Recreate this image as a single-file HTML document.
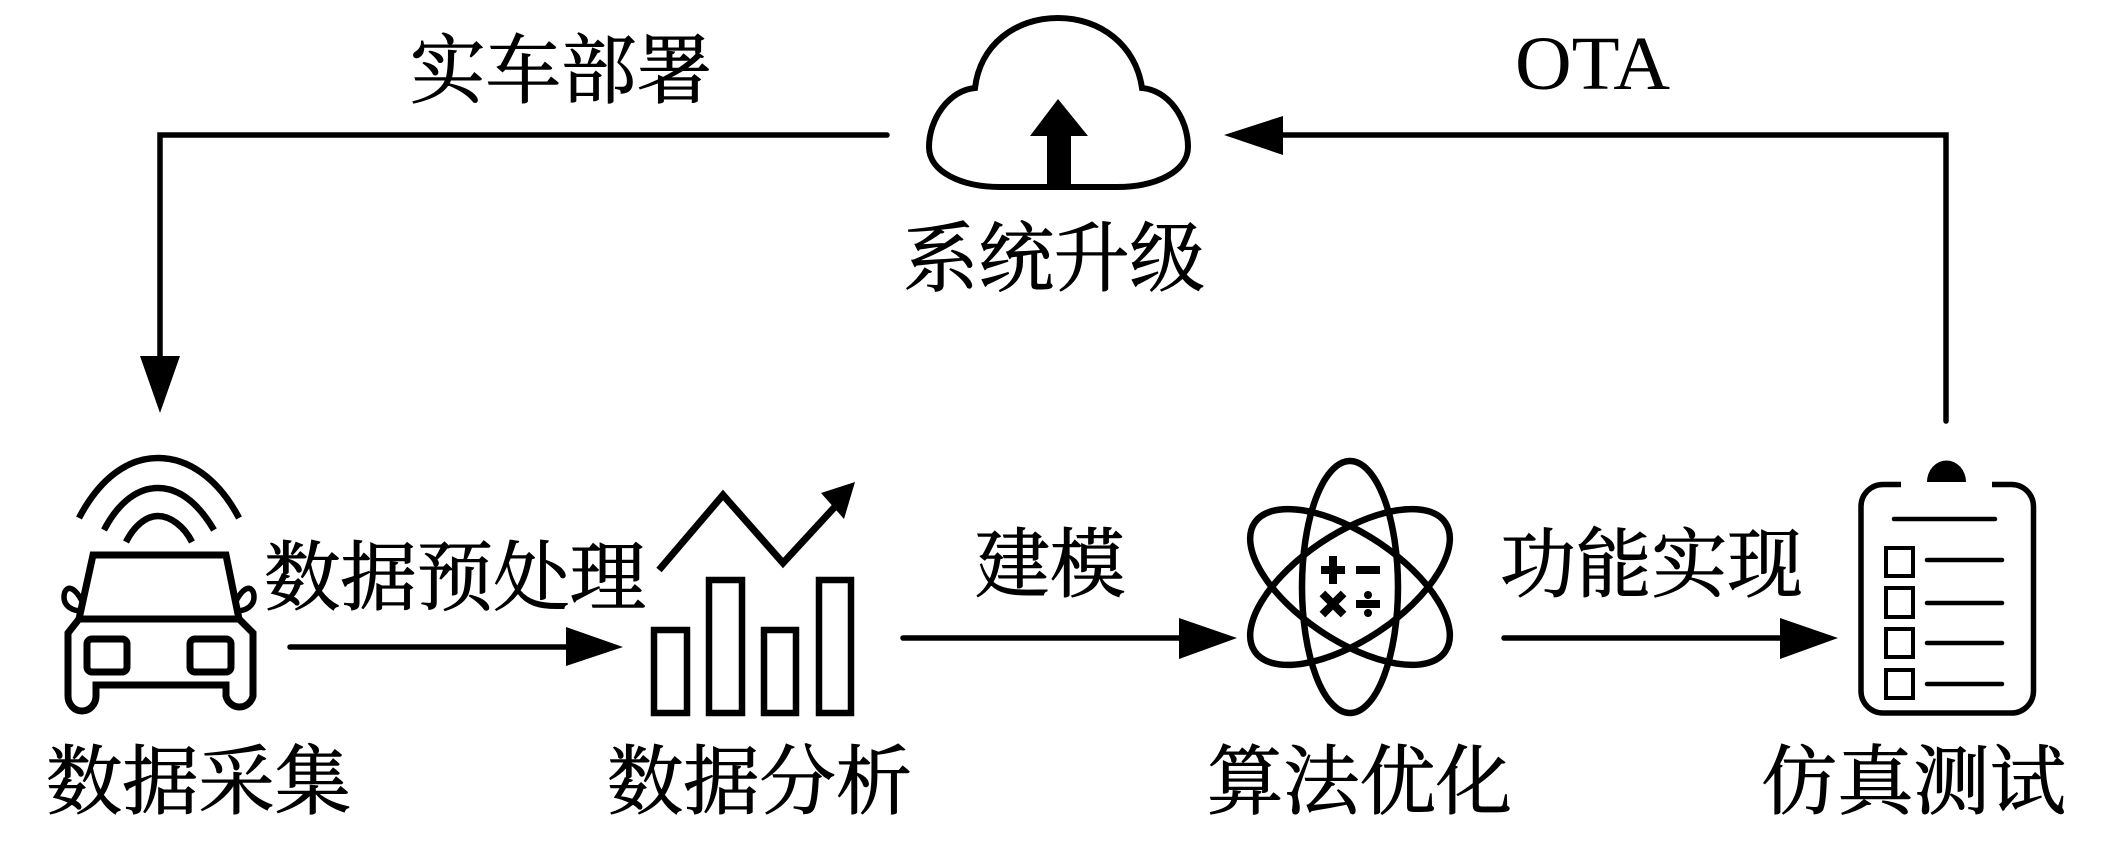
<!DOCTYPE html>
<html lang="zh">
<head>
<meta charset="utf-8">
<title>系统升级流程</title>
<style>
html,body{margin:0;padding:0;background:#fff;width:2109px;height:859px;overflow:hidden}
svg{display:block}
.t{font-family:"Liberation Serif","Noto Serif CJK SC",serif;font-size:76px;fill:#000;stroke:#000;stroke-width:1}
.o{font-family:"Liberation Serif",serif;font-size:76px;fill:#000}
</style>
</head>
<body>
<svg width="2109" height="859" viewBox="0 0 2109 859" xmlns="http://www.w3.org/2000/svg">
<g fill="none" stroke="#000" stroke-width="5.5">
  <!-- top connectors -->
  <polyline points="887,135 160,135 160,360" stroke-linecap="round"/>
  <polyline points="1280,135 1946,135 1946,421" stroke-linecap="round"/>
  <!-- horizontal arrows -->
  <line x1="290" y1="647" x2="570" y2="647" stroke-linecap="round"/>
  <line x1="903" y1="638" x2="1185" y2="638" stroke-linecap="round"/>
  <line x1="1504" y1="638" x2="1785" y2="638" stroke-linecap="round"/>

  <!-- cloud -->
  <path d="M975,88 C980,45 1015,18 1058,18 C1100,18 1136,45 1142,88 C1168,90 1188,118 1188,147 C1188,172 1155,187 1117,187 L1000,187 C962,187 929,172 929,147 C929,118 950,90 975,88 Z" stroke-width="6"/>

  <!-- car -->
  <path d="M79,518 C100,478 128,458 158,458 C188,458 218,478 239,518" stroke-width="6.5"/>
  <path d="M104,530 C118,503 137,488 158,488 C179,488 198,503 214,530" stroke-width="6.5"/>
  <path d="M126,542 C134,526 146,516 158,516 C170,516 184,526 192,542" stroke-width="6.5"/>
  <path d="M93,555 L226,555 L239,619 L79,619 Z" stroke-width="7"/>
  <path d="M79,619 L68,633 L68,696 A14,15 0 0 0 96,696 L96,685 L226,685 L226,696 A14,15 0 0 0 253,696 L253,633 L239,619" stroke-width="7"/>
  <rect x="87" y="639" width="40" height="33" rx="5" stroke-width="7"/>
  <rect x="190" y="639" width="41" height="33" rx="5" stroke-width="7"/>
  <path d="M82,611 C72,611 64,606 64,597 C64,590 68,587 72,589 C76,591 80,597 83,603" stroke-width="5.5"/>
  <path d="M236,611 C246,611 254,606 254,597 C254,590 250,587 246,589 C242,591 238,597 235,603" stroke-width="5.5"/>

  <!-- bars -->
  <rect x="654" y="630" width="33" height="83" stroke-width="6.5"/>
  <rect x="709" y="580" width="33" height="133" stroke-width="6.5"/>
  <rect x="764" y="630" width="32" height="83" stroke-width="6.5"/>
  <rect x="819" y="580" width="32" height="133" stroke-width="6.5"/>
  <polyline points="659,570 723,495 783,563 843,498" stroke-width="7"/>

  <!-- atom -->
  <ellipse cx="1350" cy="587" rx="48" ry="126" stroke-width="6.5"/>
  <ellipse cx="1350" cy="587" rx="115" ry="53" transform="rotate(34 1350 587)" stroke-width="6.5"/>
  <ellipse cx="1350" cy="587" rx="115" ry="53" transform="rotate(-34 1350 587)" stroke-width="6.5"/>

  <!-- clipboard -->
  <path d="M1901,484.5 L1883,484.5 A22,22 0 0 0 1861,506.5 L1861,691 A22,22 0 0 0 1883,713 L2011,713 A22,22 0 0 0 2033.5,691 L2033.5,506.5 A22,22 0 0 0 2011,484.5 L1992,484.5" stroke-width="5.5"/>
  <g stroke-width="4.5" stroke-linecap="round">
    <line x1="1894" y1="519" x2="1995" y2="519"/>
    <line x1="1927" y1="560" x2="2002" y2="560"/>
    <line x1="1927" y1="603" x2="2002" y2="603"/>
    <line x1="1927" y1="643" x2="2002" y2="643"/>
    <line x1="1927" y1="684" x2="2002" y2="684"/>
  </g>
  <g stroke-width="4">
    <rect x="1886" y="548" width="27" height="28"/>
    <rect x="1886" y="588" width="27" height="29"/>
    <rect x="1886" y="629" width="27" height="28"/>
    <rect x="1886" y="670" width="27" height="28"/>
  </g>
</g>

<g fill="#000" stroke="none">
  <!-- arrowheads -->
  <polygon points="1224,135 1283,116 1283,155"/>
  <polygon points="160,413 140,356 180,356"/>
  <polygon points="623,647 566,627 566,666"/>
  <polygon points="1237,638 1179,618 1179,659"/>
  <polygon points="1838,638 1780,618 1780,659"/>
  <!-- cloud up arrow -->
  <polygon points="1058,99 1088,136 1071,136 1071,187 1047,187 1047,136 1030,136"/>
  <!-- chart arrowhead -->
  <polygon points="855,482 821,493 844,519"/>
  <!-- clipboard clip -->
  <path d="M1927,482 A19,21 0 0 1 1966,482 Z"/>
  <!-- math symbols -->
  <rect x="1321" y="566" width="24" height="8"/>
  <rect x="1329" y="556" width="8" height="28"/>
  <rect x="1356" y="566" width="24" height="8"/>
  <g transform="rotate(45 1333 604)">
    <rect x="1318" y="600" width="30" height="8"/>
    <rect x="1329" y="589" width="8" height="30"/>
  </g>
  <rect x="1356" y="600" width="24" height="8"/>
  <circle cx="1368" cy="595" r="4"/>
  <circle cx="1368" cy="613" r="4"/>
</g>

<!-- labels -->
<text class="t" x="410" y="97" textLength="302" lengthAdjust="spacingAndGlyphs">实车部署</text>
<text class="o" x="1515" y="89" textLength="155" lengthAdjust="spacingAndGlyphs">OTA</text>
<text class="t" x="903" y="285" textLength="302" lengthAdjust="spacingAndGlyphs">系统升级</text>
<text class="t" x="264" y="604" textLength="382" lengthAdjust="spacingAndGlyphs">数据预处理</text>
<text class="t" x="975" y="591" textLength="150" lengthAdjust="spacingAndGlyphs">建模</text>
<text class="t" x="1500" y="591" textLength="303" lengthAdjust="spacingAndGlyphs">功能实现</text>
<text class="t" x="46" y="808" textLength="305" lengthAdjust="spacingAndGlyphs">数据采集</text>
<text class="t" x="607" y="808" textLength="305" lengthAdjust="spacingAndGlyphs">数据分析</text>
<text class="t" x="1207" y="808" textLength="305" lengthAdjust="spacingAndGlyphs">算法优化</text>
<text class="t" x="1761" y="808" textLength="305" lengthAdjust="spacingAndGlyphs">仿真测试</text>
</svg>
</body>
</html>
